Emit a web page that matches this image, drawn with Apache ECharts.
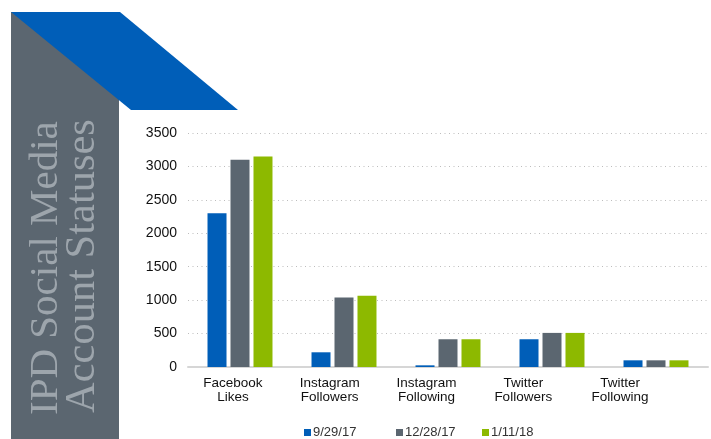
<!DOCTYPE html>
<html>
<head>
<meta charset="utf-8">
<script src="https://cdn.jsdelivr.net/npm/echarts@6/dist/echarts.min.js"></script>
<style>
html,body{margin:0;padding:0;background:#fff;}
#chart{width:711px;height:439px;}
</style>
</head>
<body>
<div id="chart"></div>
<script>
const categories = ['Facebook\nLikes', 'Instagram\nFollowers', 'Instagram\nFollowing', 'Twitter\nFollowers', 'Twitter\nFollowing'];
const seriesNames = ['9/29/17', '12/28/17', '1/11/18'];
const values929 = [2300, 220, 25, 415, 100];
const values1228 = [3100, 1040, 415, 510, 100];
const values111 = [3150, 1065, 415, 510, 100];
const yMin = 0, yMax = 3500, yStep = 500;
const titleLines = ['IPD Social Media', 'Account Statuses'];

const colors = ['#005EB8', '#5B6670', '#8DB900'];
const seriesData = [values929, values1228, values111];

const chart = echarts.init(document.getElementById('chart'), null, {renderer: 'canvas'});

const series = seriesNames.map((name, i) => ({
  name: name,
  type: 'bar',
  xAxisIndex: 0,
  yAxisIndex: 0,
  data: seriesData[i],
  barWidth: 19,
  barGap: '21%',
  itemStyle: {color: colors[i]},
  emphasis: {disabled: true}
}));

const legendLefts = [304, 396, 482];
const legends = seriesNames.map((name, i) => ({
  data: [name],
  left: legendLefts[i],
  top: 426,
  padding: 0,
  orient: 'horizontal',
  itemWidth: 7,
  itemHeight: 7,
  icon: 'rect',
  selectedMode: false,
  textStyle: {fontSize: 13, color: '#333', fontFamily: 'Liberation Sans', padding: [0, 0, 0, -3]}
}));

const option = {
  animation: false,
  color: colors,
  grid: [
    {left: 188, right: 3, top: 133, bottom: 72, containLabel: false},
    {left: 184.6, width: 483.8, top: 300, bottom: 72, containLabel: false}
  ],
  xAxis: [
    {
      type: 'category', gridIndex: 0, data: categories,
      axisLine: {show: true, lineStyle: {color: '#d6d6d6', width: 2}},
      axisTick: {show: false},
      axisLabel: {show: false},
      splitLine: {show: false}
    },
    {
      type: 'category', gridIndex: 1, data: categories,
      axisLine: {show: false},
      axisTick: {show: false},
      axisLabel: {show: true, margin: 9, fontSize: 13.5, lineHeight: 14, color: '#111', fontFamily: 'Liberation Sans', interval: 0},
      splitLine: {show: false}
    }
  ],
  yAxis: [
    {
      type: 'value', gridIndex: 0, min: yMin, max: yMax, interval: yStep,
      axisLine: {show: false},
      axisTick: {show: false},
      axisLabel: {margin: 11, fontSize: 14, color: '#111', fontFamily: 'Liberation Sans', formatter: v => String(v)},
      splitLine: {show: true, lineStyle: {color: '#bdbdbd', width: 1, type: [1, 3.5]}}
    },
    {
      type: 'value', gridIndex: 1, show: false, min: 0, max: 1
    }
  ],
  legend: legends,
  series: series,
  graphic: [
    {type: 'polygon', shape: {points: [[11, 12], [119, 12], [119, 439], [11, 439]]}, style: {fill: '#5B6670'}, silent: true},
    {type: 'polygon', shape: {points: [[11, 12], [120, 12], [238, 110], [131, 110]]}, style: {fill: '#005EB8'}, silent: true},
    {type: 'text', x: 46, y: 415, rotation: Math.PI / 2, silent: true,
      style: {text: titleLines[0], fill: '#9DA5AC', font: '41px "Liberation Serif"', align: 'left', verticalAlign: 'middle'}},
    {type: 'text', x: 83, y: 413, rotation: Math.PI / 2, silent: true,
      style: {text: titleLines[1], fill: '#9DA5AC', font: '42.5px "Liberation Serif"', align: 'left', verticalAlign: 'middle'}}
  ]
};
chart.setOption(option);
</script>
</body>
</html>
